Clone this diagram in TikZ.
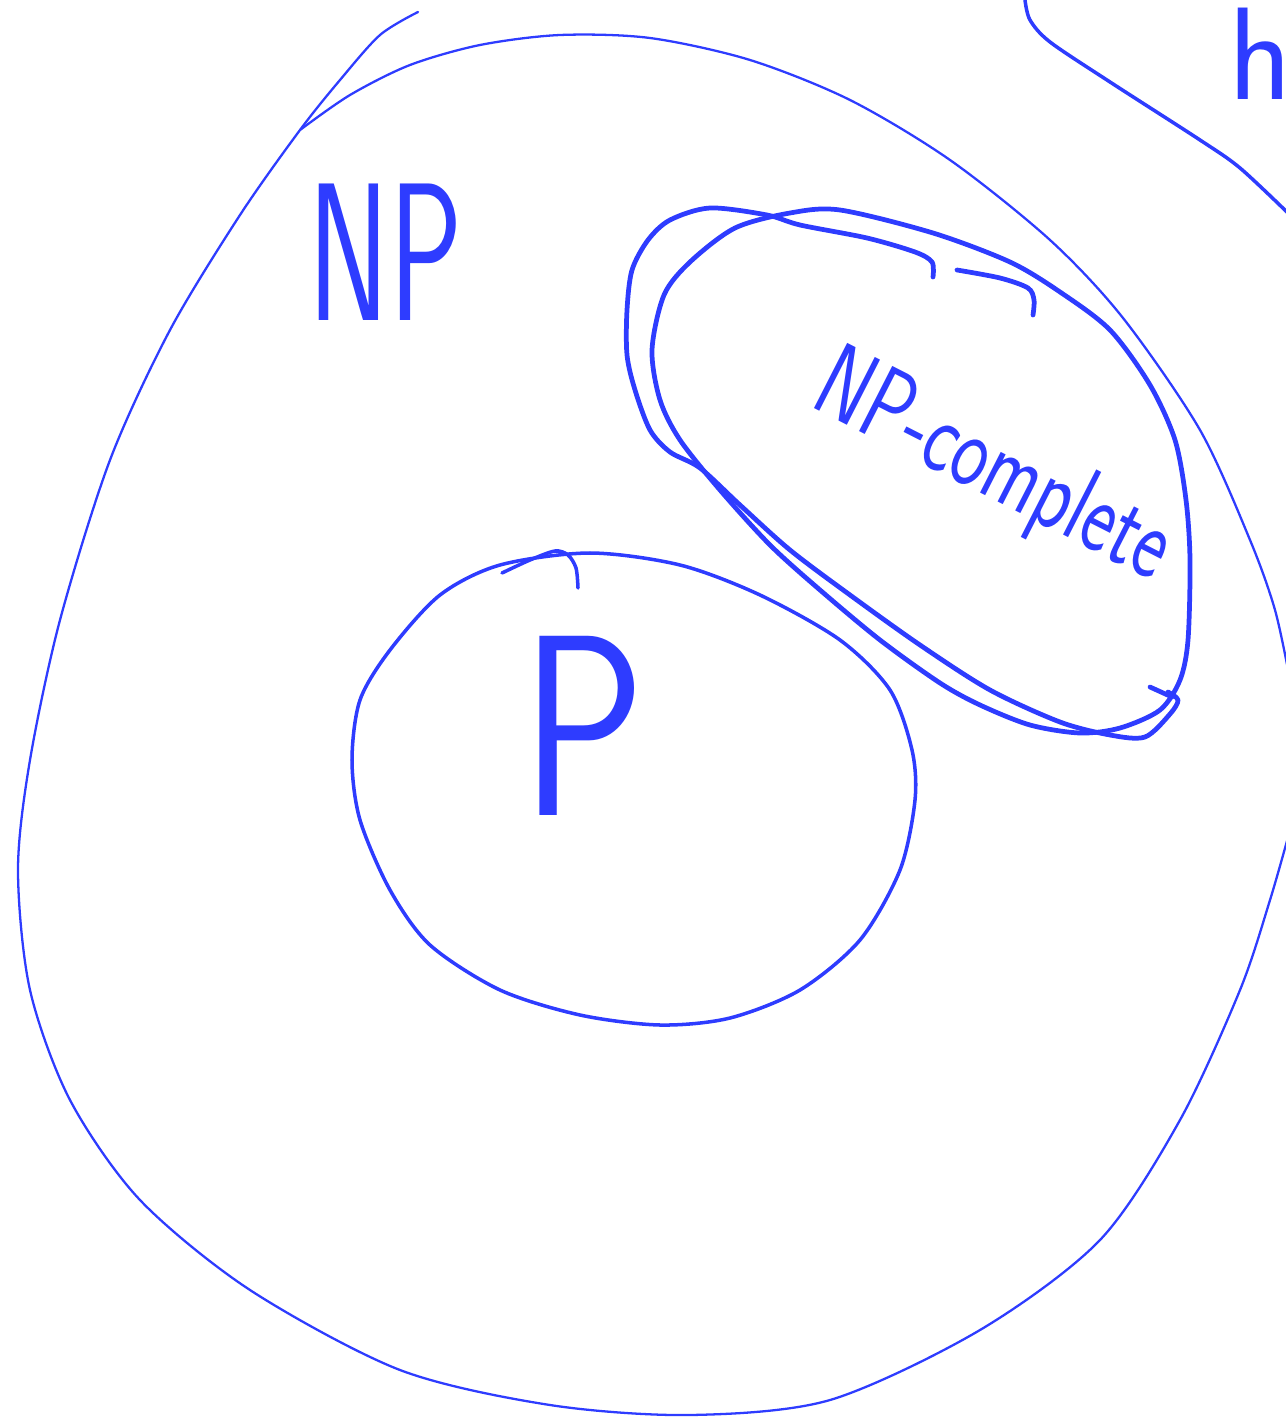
\documentclass[tikz,border=0pt]{standalone}
\definecolor{pen}{RGB}{46,60,255}
\begin{document}
\begin{tikzpicture}[x=0.02cm,y=-0.02cm,line cap=round,line join=round,
    thinpen/.style={draw=pen,line width=1.3pt},
    midpen/.style={draw=pen,line width=2pt},
    thickpen/.style={draw=pen,line width=2.7pt},
    setlabel/.style={text=pen,inner sep=0pt,font=\sffamily}]
    \useasboundingbox (0,0) rectangle (1285,1419);
    \draw [thinpen] plot [smooth] coordinates {(418,12) (380,35) (340,80) (300,130) (240,215) (170,330) (110,460) (60,620) (30,760) (18,870) (30,990) (70,1100) (140,1200) (250,1290) (400,1370) (550,1405) (690,1415) (830,1400) (980,1330) (1100,1240) (1180,1120) (1240,990) (1270,900) (1290,830)};
    \draw [thinpen] plot [smooth] coordinates {(300,130) (350,95) (410,65) (480,45) (560,35) (650,38) (750,60) (850,100) (950,160) (1050,240) (1123,318) (1200,430) (1250,540) (1275,610) (1290,680)};
    \draw [midpen] plot [smooth] coordinates {(1025,0) (1030,20) (1050,42) (1110,82) (1200,140) (1240,168) (1290,215)};
    \draw [midpen] plot [smooth] coordinates {(502,573) (530,560) (555,551) (568,555) (576,568) (578,588)};
    \draw [midpen] plot [smooth cycle] coordinates {(590,553) (680,565) (760,595) (840,640) (890,690) (912,750) (915,800) (900,870) (860,940) (800,990) (730,1018) (660,1025) (580,1015) (500,990) (430,945) (390,890) (360,820) (352,760) (360,700) (390,650) (440,595) (500,565)};
    \draw [thickpen] plot [smooth] coordinates {(933,277) (932,262) (915,252) (867,238) (800,225) (767,215) (710,208) (670,220) (648,240) (632,270) (627,310) (627,355) (635,390) (650,430) (670,452) (700,468) (740,505) (790,550) (850,595) (920,645) (990,690) (1060,722) (1110,735) (1145,737) (1170,714) (1178,700) (1168,692)};
    \draw [thickpen] (1150,687) -- (1172,697);
    \draw [thickpen] plot [smooth cycle] coordinates {(1190,560) (1188,640) (1180,680) (1160,710) (1120,728) (1080,733) (1030,725) (980,705) (940,683) (880,640) (820,590) (770,545) (720,490) (680,440) (660,400) (652,350) (664,295) (690,262) (735,228) (790,213) (840,210) (933,233) (1010,262) (1060,292) (1110,330) (1150,385) (1175,440) (1186,500)};
    \draw [thickpen] plot [smooth] coordinates {(957,270) (1000,278) (1028,288) (1034,300) (1033,315)};
    \node [setlabel,xscale=0.62,transform shape] (np) at (386,252) {\fontsize{112}{112}\selectfont NP};
    \node [setlabel,xscale=0.8,transform shape] (p) at (583,726) {\fontsize{147}{147}\selectfont P};
    \node [setlabel,rotate=-27,xscale=0.72,transform shape] (npc) at (993,470) {\fontsize{60}{60}\selectfont NP-complete};
    \node [setlabel,anchor=base west] (nph) at (1228,100) {\fontsize{75}{75}\selectfont h};
\end{tikzpicture}
\end{document}
